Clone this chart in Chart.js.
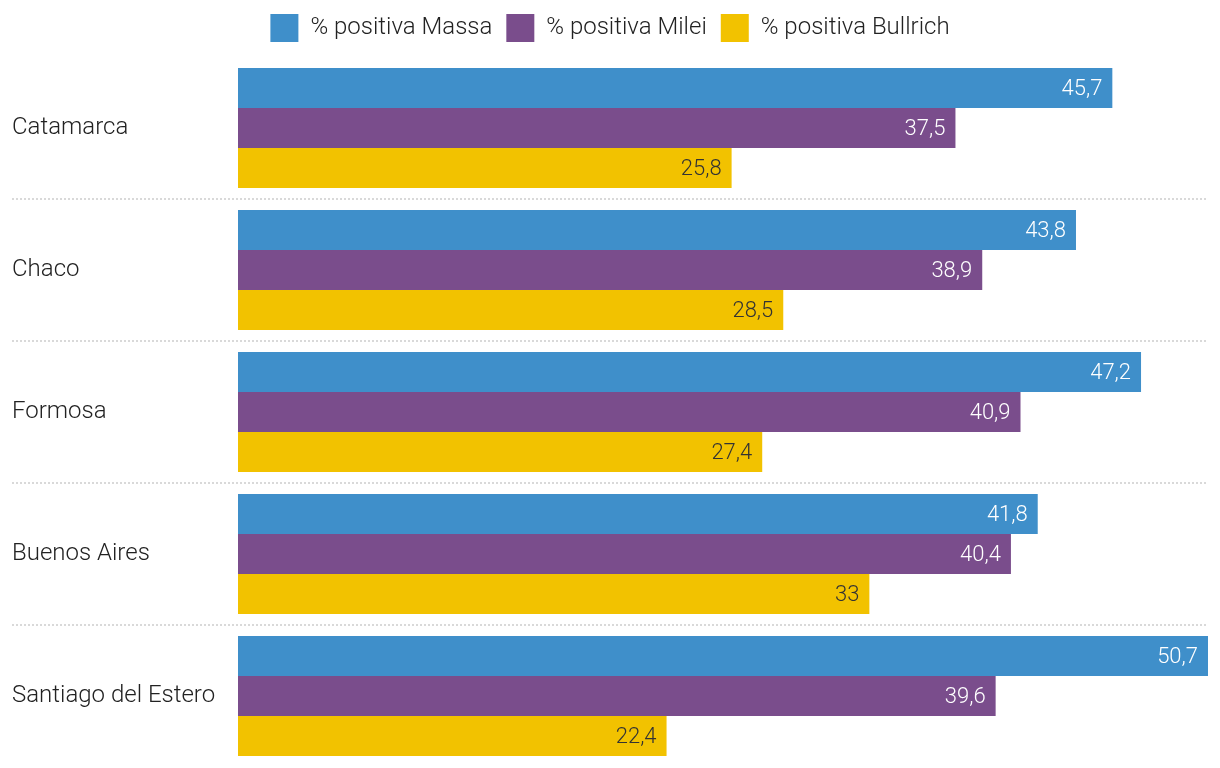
<!DOCTYPE html>
<html>
<head>
<meta charset="utf-8">
<script src="https://cdn.jsdelivr.net/npm/chart.js@4/dist/chart.umd.min.js"></script>
<style>
  html, body { margin: 0; padding: 0; background: #fff; }
  #wrap { width: 1220px; height: 768px; position: relative; }
</style>
</head>
<body>
<div id="wrap"><canvas id="c"></canvas></div>
<script>
const categories = ['Catamarca', 'Chaco', 'Formosa', 'Buenos Aires', 'Santiago del Estero'];
const seriesNames = ['% positiva Massa', '% positiva Milei', '% positiva Bullrich'];
const massa = [45.7, 43.8, 47.2, 41.8, 50.7];
const milei = [37.5, 38.9, 40.9, 40.4, 39.6];
const bullrich = [25.8, 28.5, 27.4, 33, 22.4];
const colors = ['#3f8fca', '#7a4d8c', '#f2c200'];
const labelColors = ['#ffffff', '#ffffff', '#333333'];

const FONT = 'Roboto, "Noto Sans", sans-serif';
const xMax = Math.max(...massa, ...milei, ...bullrich);

const separators = {
  id: 'separators',
  beforeDatasetsDraw(chart) {
    const y = chart.scales.y;
    const ctx = chart.ctx;
    ctx.save();
    ctx.strokeStyle = '#d9d9d9';
    ctx.lineWidth = 2;
    ctx.setLineDash([2, 2]);
    for (let i = 0; i < categories.length - 1; i++) {
      const py = Math.round((y.getPixelForValue(i) + y.getPixelForValue(i + 1)) / 2);
      ctx.beginPath();
      ctx.moveTo(12, py);
      ctx.lineTo(chart.chartArea.right, py);
      ctx.stroke();
    }
    ctx.restore();
  }
};

const valueLabels = {
  id: 'valueLabels',
  afterDatasetsDraw(chart) {
    const ctx = chart.ctx;
    ctx.save();
    ctx.font = '300 22px ' + FONT;
    ctx.textAlign = 'right';
    ctx.textBaseline = 'middle';
    chart.data.datasets.forEach((ds, di) => {
      const meta = chart.getDatasetMeta(di);
      meta.data.forEach((bar, i) => {
        const v = ds.data[i];
        ctx.fillStyle = labelColors[di];
        ctx.fillText(String(v).replace('.', ','), bar.x - 10, bar.y + 1);
      });
    });
    ctx.restore();
  }
};

new Chart(document.getElementById('c'), {
  type: 'bar',
  data: {
    labels: categories,
    datasets: [
      { label: seriesNames[0], data: massa, backgroundColor: colors[0] },
      { label: seriesNames[1], data: milei, backgroundColor: colors[1] },
      { label: seriesNames[2], data: bullrich, backgroundColor: colors[2] }
    ]
  },
  options: {
    indexAxis: 'y',
    responsive: true,
    maintainAspectRatio: false,
    animation: false,
    layout: { padding: { left: 12, right: 12, top: 0, bottom: 1 } },
    datasets: { bar: { categoryPercentage: 120 / 142, barPercentage: 1, borderWidth: 0 } },
    scales: {
      x: { display: false, min: 0, max: xMax },
      y: {
        grid: { display: false },
        border: { display: false },
        ticks: {
          crossAlign: 'far',
          color: '#222',
          padding: 0,
          font: { family: FONT, size: 24, weight: '300' }
        },
        afterFit(scale) {
          scale.width = 226;
          scale.paddingTop = 0;
          scale.paddingBottom = 0;
        }
      }
    },
    plugins: {
      legend: {
        position: 'top',
        align: 'center',
        labels: {
          boxWidth: 28,
          boxHeight: 28,
          padding: 14,
          color: '#222',
          font: { family: FONT, size: 24, weight: '300' }
        }
      },
      title: {
        display: true,
        text: '',
        position: 'top',
        weight: 500,
        padding: 0,
        font: { size: 5, lineHeight: 1 }
      },
      tooltip: { enabled: false }
    }
  },
  plugins: [separators, valueLabels]
});
</script>
</body>
</html>
